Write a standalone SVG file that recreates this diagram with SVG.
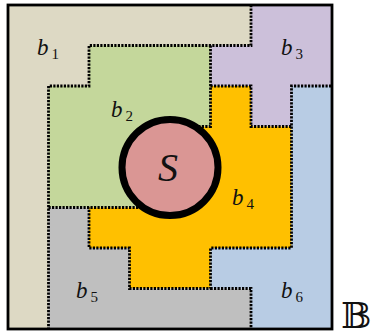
<svg xmlns="http://www.w3.org/2000/svg" width="372" height="335" viewBox="0 0 372 335">
<style>
.region{stroke:none}
.lbl{font-family:"Liberation Serif","Times New Roman",serif;font-style:italic;font-size:23px;fill:#111}
.sub{font-style:normal;font-size:15px}
.bd{fill:none;stroke:#000;stroke-width:2.8;stroke-dasharray:2.2 1.3;stroke-linejoin:miter}
</style>
<rect x="0" y="0" width="372" height="335" fill="#fff"/>
<g id="b1">
<polygon class="region" fill="#DDD9C4" points="8,5 251,5 251,45.5 89,45.5 89,86 48.5,86 48.5,329 8,329"/>
<text class="lbl" x="37" y="55">b<tspan class="sub" dx="3" dy="4">1</tspan></text>
</g>
<g id="b2">
<polygon class="region" fill="#C4D79B" points="48.5,86 89,86 89,45.5 210.5,45.5 210.5,126.5 170,126.5 170,207.5 48.5,207.5"/>
<text class="lbl" x="111" y="117">b<tspan class="sub" dx="3" dy="4">2</tspan></text>
</g>
<g id="b3">
<polygon class="region" fill="#CCC0DA" points="251,5 332,5 332,86 291.5,86 291.5,126.5 251,126.5 251,86 210.5,86 210.5,45.5 251,45.5"/>
<text class="lbl" x="281" y="55">b<tspan class="sub" dx="3" dy="4">3</tspan></text>
</g>
<g id="b4">
<polygon class="region" fill="#FFC000" points="210.5,86 251,86 251,126.5 291.5,126.5 291.5,248 210.5,248 210.5,288.5 129.5,288.5 129.5,248 89,248 89,207.5 170,207.5 170,126.5 210.5,126.5"/>
<text class="lbl" x="232" y="205">b<tspan class="sub" dx="3" dy="4">4</tspan></text>
</g>
<g id="b5">
<polygon class="region" fill="#BFBFBF" points="48.5,207.5 89,207.5 89,248 129.5,248 129.5,288.5 251,288.5 251,329 48.5,329"/>
<text class="lbl" x="76" y="298">b<tspan class="sub" dx="3" dy="4">5</tspan></text>
</g>
<g id="b6">
<polygon class="region" fill="#B8CCE4" points="291.5,86 332,86 332,329 251,329 251,288.5 210.5,288.5 210.5,248 291.5,248"/>
<text class="lbl" x="281" y="298">b<tspan class="sub" dx="3" dy="4">6</tspan></text>
</g>
<g id="connectors">
<path class="bd" d="M251,5 V45.5 H89 V86 H48.5 V329"/>
<path class="bd" d="M210.5,45.5 V126.5 H170"/>
<path class="bd" d="M210.5,86 H251 V126.5 H291.5 V86 H332"/>
<path class="bd" d="M48.5,207.5 H170"/>
<path class="bd" d="M291.5,126.5 V248 H210.5 V288.5 H129.5 V248 H89 V207.5"/>
<path class="bd" d="M210.5,288.5 H251 V329"/>
</g>
<rect id="frame" x="8" y="5" width="324" height="324" fill="none" stroke="#000" stroke-width="2.8"/>
<g id="S">
<circle cx="170" cy="167.5" r="48" fill="#DA9694" stroke="#000" stroke-width="7"/>
<text x="168" y="181" text-anchor="middle" font-family="Liberation Serif,'Times New Roman',serif" font-style="italic" font-size="40" fill="#111">S</text>
</g>
<text id="B" x="341" y="328" font-family="DejaVu Serif,DejaVu Sans,serif" font-size="36" fill="#111">𝔹</text>
</svg>
